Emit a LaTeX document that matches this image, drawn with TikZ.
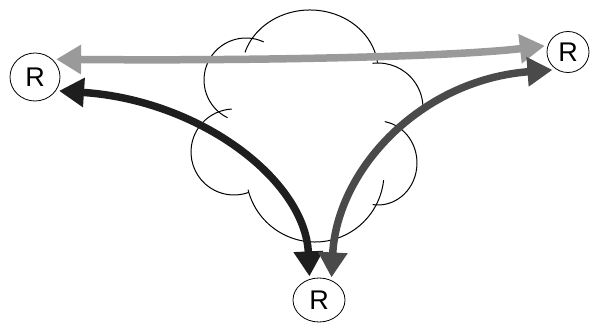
\documentclass[tikz,border=0pt]{standalone}
\usepackage{fontspec}
\setmainfont{Liberation Sans}
\usepackage{tikz}
\usetikzlibrary{arrows.meta,shapes.geometric}
\definecolor{lightarr}{HTML}{9A9A9A}
\definecolor{darkarr}{HTML}{4A4A4A}
\definecolor{blackarr}{HTML}{1E1E1E}

\begin{document}
\begin{tikzpicture}[x=1pt, y=1pt, every node/.style={font=\fontsize{27}{29}\selectfont}, >={Triangle[length=25pt, width=28pt]}, rn/.style={draw, ellipse, line width=0.8pt, inner sep=0pt, outer sep=3pt}, puff/.style={line width=1pt}, arr/.style={line width=7.5pt, <->}]
	\useasboundingbox (0,0) rectangle (590,324);
	\node[rn, minimum width=50pt, minimum height=48pt] (rl) at (35,247) {R};
	\node[rn, minimum width=42pt, minimum height=41pt] (rr) at (568,272) {R};
	\node[rn, minimum width=52pt, minimum height=44pt] (rb) at (319,24) {R};
	% cloud
	\draw[puff] (310,254) ++(163:68 and 60) arc[start angle=163, end angle=7, x radius=68, y radius=60];
	\draw[puff] (246,244) ++(65:42) arc[start angle=65, end angle=244, radius=42];
	\draw[puff] (234,172) ++(93:43) arc[start angle=93, end angle=290, radius=43];
	\draw[puff] (315,151) ++(194:69) arc[start angle=194, end angle=354, radius=69];
	\draw[puff] (378,161) ++(262:39 and 42) arc[start angle=262, end angle=440, x radius=39, y radius=42];
	\draw[puff] (378,216) ++(97:45) arc[start angle=97, end angle=-3, radius=45];
	% arrows
	\draw[arr, lightarr] (rl.40) .. controls (250,263) and (450,267) .. (rr.165);
	\draw[arr, blackarr] (rl.-30) .. controls (200,224) and (305,144) .. (rb.112);
	\draw[arr, darkarr] (rb.61) .. controls (337,154) and (420,244) .. (rr.-131);
\end{tikzpicture}
\end{document}
